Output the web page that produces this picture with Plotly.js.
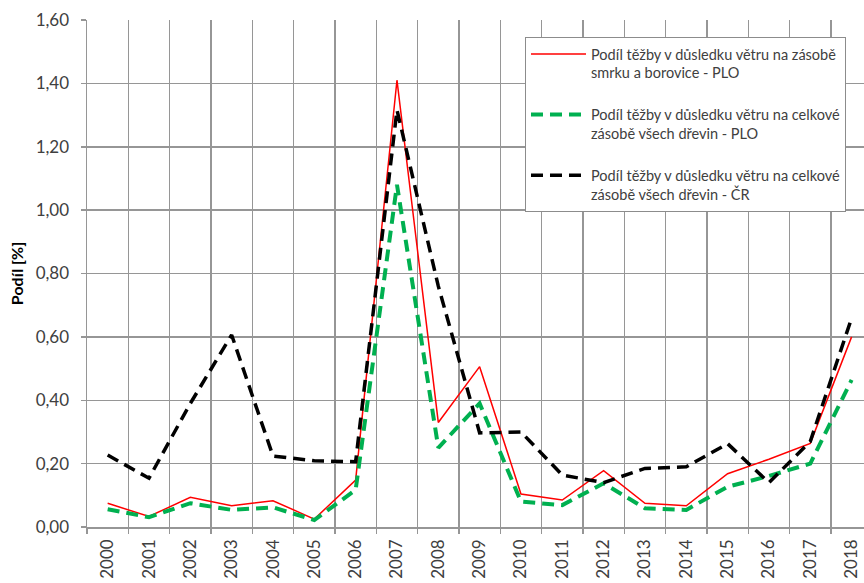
<!DOCTYPE html>
<html>
<head>
<meta charset="utf-8">
<script src="https://cdn.plot.ly/plotly-3.0.1.min.js"></script>
<style>
html,body{margin:0;padding:0;background:#fff;}
#chart{width:864px;height:583px;}
</style>
</head>
<body>
<div id="chart"></div>
<script>
const years = ["2000","2001","2002","2003","2004","2005","2006","2007","2008","2009","2010","2011","2012","2013","2014","2015","2016","2017","2018"];
const redPLO = [0.075,0.033,0.094,0.067,0.083,0.025,0.148,1.41,0.33,0.506,0.104,0.085,0.178,0.075,0.067,0.168,0.214,0.264,0.60];
const greenPLO = [0.056,0.031,0.075,0.054,0.062,0.022,0.117,1.08,0.25,0.39,0.08,0.069,0.138,0.059,0.054,0.127,0.161,0.20,0.464];
const blackCR = [0.227,0.154,0.39,0.606,0.224,0.209,0.206,1.316,0.76,0.297,0.30,0.164,0.14,0.185,0.19,0.263,0.14,0.27,0.659];
const names = [
  "Podíl těžby v důsledku větru na zásobě<br>smrku a borovice - PLO",
  "Podíl těžby v důsledku větru na celkové<br>zásobě všech dřevin - PLO",
  "Podíl těžby v důsledku větru na celkové<br>zásobě všech dřevin - ČR"
];
const yTitle = "Podíl [%]";

const font = "Lato, 'Open Sans', sans-serif";
const traces = [
  {x: years, y: redPLO, name: names[0], type: "scatter", mode: "lines", legendgroup: "a",
   line: {color: "#ff0000", width: 1.5}},
  {x: years, y: greenPLO, name: names[1], type: "scatter", mode: "lines", legendgroup: "b",
   line: {color: "#00b050", width: 4, dash: "12px,7px"}},
  {x: years, y: blackCR, name: names[2], type: "scatter", mode: "lines", legendgroup: "c",
   line: {color: "#000000", width: 3.5, dash: "12px,7px"}}
];
const layout = {
  width: 864, height: 583,
  margin: {l: 87, r: 0, t: 20, b: 56, pad: 0},
  paper_bgcolor: "#fff", plot_bgcolor: "#fff",
  separators: ", ",
  font: {family: font, size: 14, color: "#404040"},
  showlegend: true,
  legend: {
    x: 0.5637, y: 0.9665, xanchor: "left", yanchor: "top",
    bgcolor: "#fff", bordercolor: "#8c8c8c", borderwidth: 1,
    font: {family: font, size: 14.5, color: "#404040"},
    traceorder: "grouped", tracegroupgap: 20, valign: "top", itemwidth: 55
  },
  xaxis: {
    type: "category", range: [-0.5, 18.3],
    tickson: "boundaries", ticks: "outside", ticklen: 5, tickcolor: "#969696", tickwidth: 1.5,
    tickangle: -90, showgrid: true, gridcolor: "#969696", gridwidth: 1.5,
    showline: true, linecolor: "#969696", linewidth: 1.5, ticklabelstandoff: 4,
    tickfont: {family: font, size: 17, color: "#404040"}, fixedrange: true
  },
  yaxis: {
    range: [0, 1.6], dtick: 0.2, tick0: 0, tickformat: ".2f",
    ticks: "outside", ticklen: 5, tickcolor: "#969696", tickwidth: 1.5,
    showgrid: true, gridcolor: "#969696", gridwidth: 1.5, zeroline: false,
    showline: true, linecolor: "#969696", linewidth: 1.5, ticklabelstandoff: 8,
    tickfont: {family: font, size: 17, color: "#404040"},
    title: {text: "<b>" + yTitle + "</b>", font: {family: font, size: 16, color: "#000"}, standoff: 8},
    fixedrange: true
  }
};
Plotly.newPlot("chart", traces, layout, {displayModeBar: false, staticPlot: true});
</script>
</body>
</html>
